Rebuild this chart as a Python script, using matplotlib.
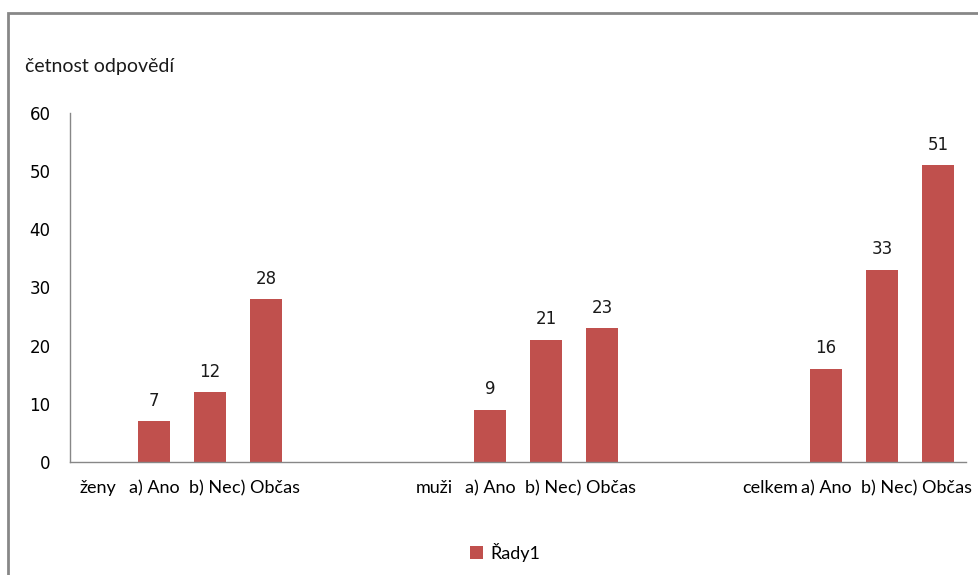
import matplotlib
matplotlib.use("Agg")
import matplotlib.pyplot as plt
from matplotlib.patches import Rectangle

# categories as in the source sheet (empty slots are group headers / spacers)
categories = ["ženy", "a) Ano", "b) Ne", "c) Občas", "", "",
              "muži", "a) Ano", "b) Ne", "c) Občas", "", "",
              "celkem", "a) Ano", "b) Ne", "c) Občas"]
values = [None, 7, 12, 28, None, None,
          None, 9, 21, 23, None, None,
          None, 16, 33, 51]
yticks = [0, 10, 20, 30, 40, 50, 60]
series_name = "Řady1"
axis_title = "četnost odpovědí"

bar_color = "#C0504D"
grid_gray = "#878787"
plt.rcParams["font.family"] = ["Lato", "DejaVu Sans"]

fig = plt.figure(figsize=(9.79, 5.75), dpi=100)
ax = fig.add_axes([70 / 979, 113 / 575, 896 / 979, 349 / 575])

xs = [i for i, v in enumerate(values) if v is not None]
hs = [v for v in values if v is not None]
bars = ax.bar(xs, hs, width=0.58, color=bar_color, label=series_name)

# value labels
for x, h in zip(xs, hs):
    ax.text(x, h + 2.0, str(h), ha="center", va="bottom", fontsize=12,
            family="DejaVu Sans", color="#1a1a1a")

ax.set_xlim(-0.5, len(categories) - 0.5)
ax.set_ylim(0, 60)
ax.set_yticks(yticks)
ax.set_yticklabels([str(t) for t in yticks], fontsize=12, family="DejaVu Sans")
ax.tick_params(axis="y", length=0, pad=14)
ax.set_xticks(range(len(categories)))
ax.set_xticklabels(categories, fontsize=13)
ax.tick_params(axis="x", length=0, pad=13)

for side in ["top", "right"]:
    ax.spines[side].set_visible(False)
for side in ["left", "bottom"]:
    ax.spines[side].set_color(grid_gray)
    ax.spines[side].set_linewidth(1)

fig.text(25 / 979, 1 - 67 / 575, axis_title, fontsize=14, va="center", ha="left",
         color="#1a1a1a")

ax.legend(loc="center", bbox_to_anchor=(505 / 979, 1 - 552 / 575),
          bbox_transform=fig.transFigure, frameon=False, fontsize=13,
          handlelength=0.7, handleheight=0.7, handletextpad=0.4)

# chart area border (cut by the image edge on right and bottom)
fig.patches.append(Rectangle((8 / 979, -0.1), 1.2, 1 - 13 / 575 + 0.1,
                             transform=fig.transFigure, fill=False,
                             edgecolor=grid_gray, linewidth=2))

fig.savefig("out.png", dpi=100)
